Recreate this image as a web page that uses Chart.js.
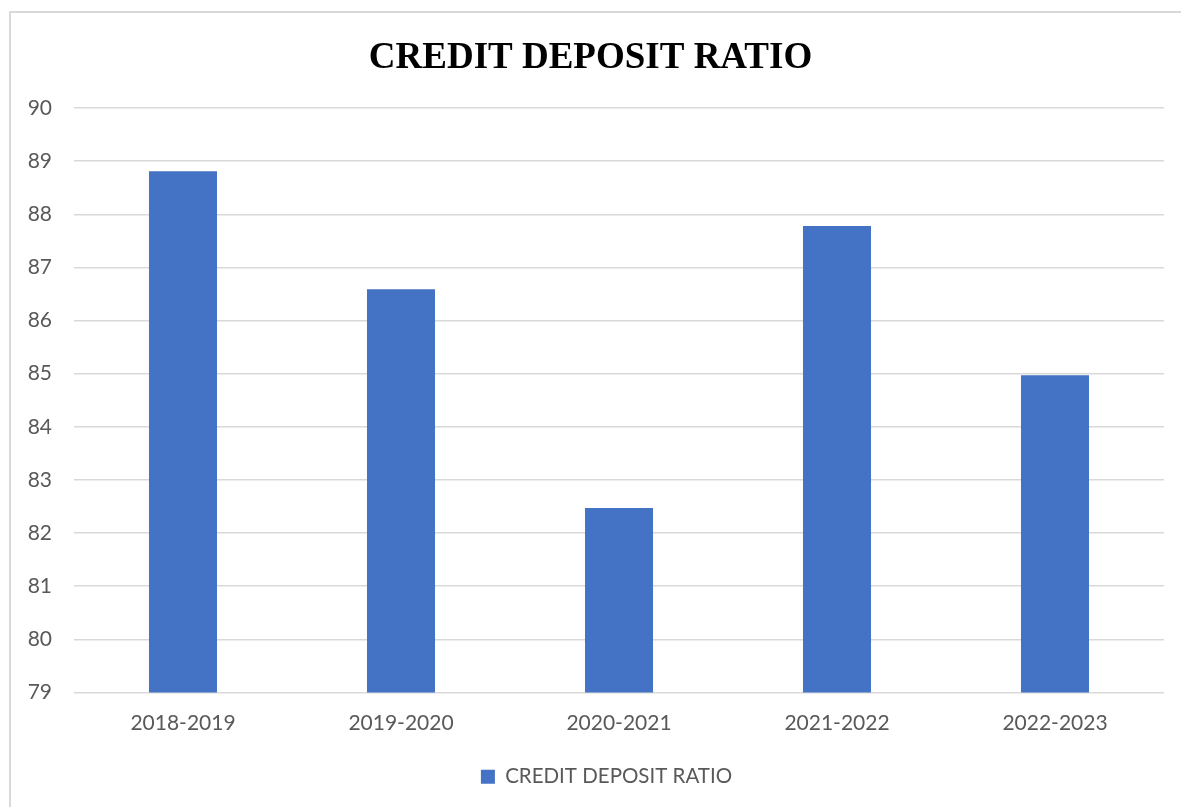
<!DOCTYPE html>
<html>
<head>
<meta charset="utf-8">
<script src="https://cdn.jsdelivr.net/npm/chart.js@4/dist/chart.umd.min.js"></script>
<style>
  html, body { margin: 0; padding: 0; background: #ffffff; }
  #wrap { position: relative; width: 1181px; height: 807px; overflow: hidden; }
  #frame { position: absolute; left: 9px; top: 11px; width: 1240px; height: 860px;
           border: 2px solid #d9d9d9; box-sizing: border-box; }
  #chart { position: absolute; left: 0; top: 0; }
</style>
</head>
<body>
<div id="wrap">
  <div id="frame"></div>
  <canvas id="chart" width="1181" height="807"></canvas>
</div>
<script>
// Credit deposit ratio by financial year
const years = ['2018-2019', '2019-2020', '2020-2021', '2021-2022', '2022-2023'];
const creditDepositRatio = [88.81, 86.59, 82.47, 87.78, 84.97];
const yTicks = { min: 79, max: 90, step: 1 };

const labelColor = '#595959';
const tickFont = { family: 'Lato, "Open Sans", sans-serif', size: 21 };
const legendFont = { family: 'Lato, "Open Sans", sans-serif', size: 20.5 };

// Nudges the legend block to the right of the centre line
const legendOffset = {
  id: 'legendOffset',
  afterLayout(chart, args, opts) {
    const lg = chart.legend;
    if (lg) { lg.left += opts.dx; lg.right += opts.dx; }
  }
};

new Chart(document.getElementById('chart'), {
  type: 'bar',
  data: {
    labels: years,
    datasets: [{
      label: 'CREDIT DEPOSIT RATIO',
      data: creditDepositRatio,
      backgroundColor: '#4472C4',
      borderWidth: 0,
      barPercentage: 0.312,
      categoryPercentage: 1
    }]
  },
  plugins: [legendOffset],
  options: {
    responsive: false,
    animation: false,
    layout: { padding: { left: 17, right: 17, top: 20, bottom: 10 } },
    plugins: {
      legendOffset: { dx: 16 },
      title: {
        display: true,
        text: 'CREDIT DEPOSIT RATIO',
        color: '#000000',
        font: { family: '"Liberation Serif", "Times New Roman", serif', size: 37, weight: 'bold' },
        padding: { top: 16, bottom: 27.6 }
      },
      legend: {
        display: true,
        position: 'bottom',
        labels: {
          color: labelColor,
          font: legendFont,
          boxWidth: 14,
          boxHeight: 14,
          padding: 10
        }
      },
      tooltip: { enabled: false }
    },
    scales: {
      x: {
        grid: { display: false, drawTicks: false },
        border: { display: false },
        ticks: { color: labelColor, font: tickFont, padding: 18 },
        afterFit: (scale) => { scale.height = 64; }
      },
      y: {
        min: yTicks.min,
        max: yTicks.max,
        grid: { color: '#d9d9d9', lineWidth: 1.5, drawTicks: false },
        border: { display: false },
        ticks: { stepSize: yTicks.step, color: labelColor, font: tickFont, padding: 22 },
        afterFit: (scale) => { scale.width = 57; }
      }
    }
  }
});
</script>
</body>
</html>
